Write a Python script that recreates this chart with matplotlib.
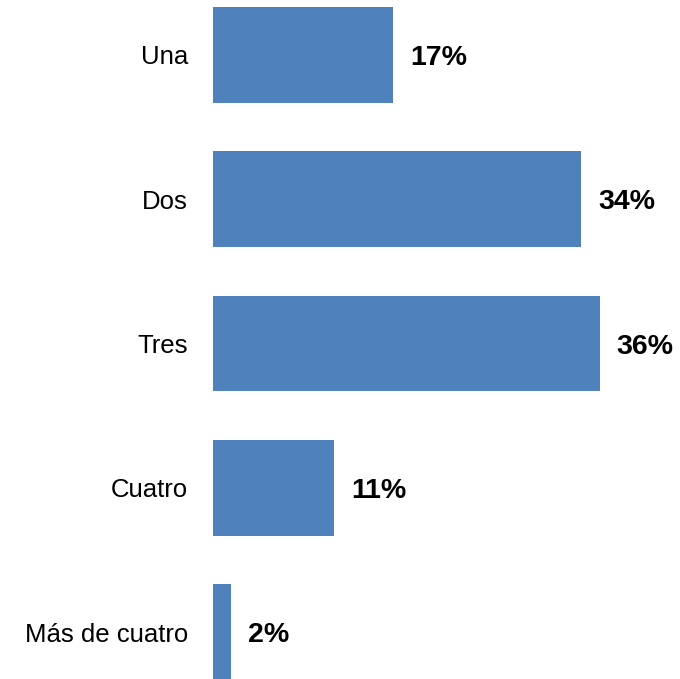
import matplotlib.pyplot as plt

plt.rcParams['font.family'] = ['Liberation Sans', 'DejaVu Sans']

categories = ['Una', 'Dos', 'Tres', 'Cuatro', 'Más de cuatro']
values = [16.7, 34.1, 35.8, 11.2, 1.7]
labels = ['17%', '34%', '36%', '11%', '2%']

fig = plt.figure(figsize=(6.8, 6.79), dpi=100)
ax = fig.add_axes([213 / 680, -1 / 679, 432 / 680, 673 / 679])

pos = range(len(categories))
bars = ax.barh(pos, values, height=0.665, color='#4F81BD')
ax.set_ylim(len(categories) - 1 + 0.3325, -0.3325)
ax.set_xlim(0, 40)

for b, lab in zip(bars, labels):
    ax.annotate(lab, (b.get_width(), b.get_y() + b.get_height() / 2),
                xytext=(17, -3), textcoords='offset pixels',
                ha='left', va='center', fontsize=20.5, fontweight='bold')

ax.set_yticks(list(pos))
ax.set_yticklabels(categories, fontsize=18.5)
ax.tick_params(axis='y', length=0, pad=18)
ax.set_xticks([])
for s in ax.spines.values():
    s.set_visible(False)

fig.savefig('out.png', dpi=100)
